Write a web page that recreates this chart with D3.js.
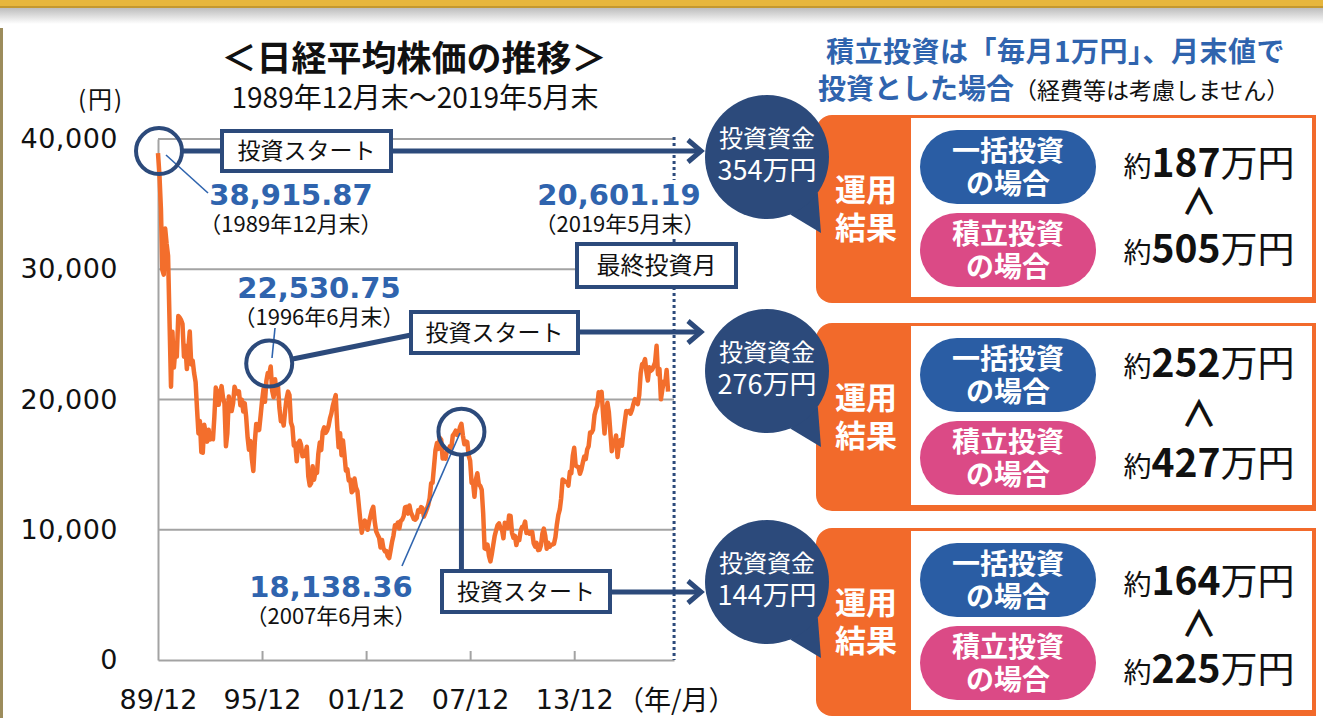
<!DOCTYPE html>
<html><head><meta charset="utf-8">
<script src="https://cdn.jsdelivr.net/npm/d3@7"></script>
<style>body{margin:0;background:#fff;overflow:hidden}svg{display:block}</style>
</head><body>
<svg id="c" width="1323" height="718"></svg>
<script>
// ---------- DATA ----------
const seriesStart = "1989/12";   // first month of the series (month-end values)
const nikkei1989to1994 = [38916,
 37189,34592,29980,29585,33131,31940,31036,25978,20984,25194,22454,23849,
 23293,26409,26292,26111,25790,23291,24121,22336,23916,25222,22687,22984,
 22023,21339,19346,17391,18348,15952,15910,18061,17399,16767,17684,16925,
 17024,16953,18591,20919,20552,19590,20380,21027,20106,19704,16408,17417,
 20229,19112,19112,19725,20974,20644,20449,20629,19564,19990,19076,19723];
const nikkei1995to2004 = [
 18650,17054,16140,16807,15437,14518,16678,18117,17913,17655,18744,19868,
 20813,19819,21407,22041,21956,22531,20693,20167,21556,20467,21020,19361,
 18330,18557,18003,19151,20069,20605,20331,18229,17888,16459,16636,15259,
 16628,16832,16527,15641,15671,15830,16379,14108,13406,13564,14883,13842,
 14499,14368,15837,16702,16112,17530,17862,17437,17605,17942,18558,18934,
 19540,19960,20337,17974,16332,17411,15727,16861,15747,14539,14649,13786,
 13844,12884,12999,13935,13262,12969,11861,10714,9775,10366,10697,10543,
 9998,10588,11025,11493,11764,10622,9878,9619,9383,8640,9216,8579,
 8340,8363,7973,7831,8425,9083,9563,10344,10219,10560,10101,10677,
 10784,11042,11715,11762,11236,11859,11326,11082,10824,10771,10899,11489];
const nikkei2005to2014 = [
 11388,11741,11669,11009,11277,11584,11900,12414,13574,13607,14872,16111,
 16650,16205,17060,16906,15467,15505,15457,16141,16128,16399,16274,17226,
 17383,17604,17288,17400,17876,18138,17249,16569,16786,16738,15681,15308,
 13592,13604,12526,13850,14339,13481,13377,13073,11260,8577,8512,8860,
 7994,7568,8110,8828,9523,9958,10357,10493,10133,10035,9346,10546,
 10198,10126,11090,11057,9769,9383,9537,8824,9369,9202,9937,10229,
 10238,10624,9755,9850,9694,9816,9833,8955,8700,8988,8435,8455,
 8803,9723,10084,9521,8543,9007,8695,8840,8870,8928,9446,10395,
 11139,11559,12398,13861,13775,13677,13668,13389,14456,14328,15662,16291,
 14915,14841,14828,14304,14632,15162,15621,15425,16174,16414,17460,17451];
const nikkei2015to2019 = [
 17674,18798,19207,19520,20563,20236,20585,18890,17388,19083,19747,19034,
 17518,16027,16759,16666,17235,15576,16569,16887,16450,17425,18308,19114,
 19041,19119,18909,19197,19651,20033,19925,19646,20356,22012,22725,22765,
 23098,22068,21454,22468,22202,22305,22554,22865,24120,21920,22351,20015,
 20773,21385,21206,22259,20601];

const yTicks = [0, 10000, 20000, 30000, 40000];
const xTickLabels = ["89/12","95/12","01/12","07/12","13/12"];
const xUnitLabel = "（年/月）";

const startMonths = ["1989/12","1996/06","2007/06"];
const startPrices = [38915.87, 22530.75, 18138.36];
const startNotes  = ["（1989年12月末）","（1996年6月末）","（2007年6月末）"];
const lastMonth = "2019/05";
const lastPrice = 20601.19;
const lastNote = "（2019年5月末）";

const capitalMan = [354, 276, 144];   // 投資資金（万円）
const lumpSumMan = [187, 252, 164];   // 一括投資の場合（万円）
const dcaMan     = [505, 427, 225];   // 積立投資の場合（万円）

// ---------- STYLE ----------
const CJK = '"Noto Sans CJK JP","Noto Sans CJK SC",sans-serif';
const LAT = '"DejaVu Sans",Verdana,sans-serif';
const NAVY = "#2C4A7B", BLUE = "#2F64AE", ORANGE = "#F26A2B", PINK = "#DB4A86",
      PILL = "#2A5DA4", GRID = "#A3A3A3", LINE = "#F36E2C";

const svg = d3.select("#c");
const W = 1323, H = 718;

// ---------- FRAME ----------
const defs = svg.append("defs");
const g1 = defs.append("linearGradient").attr("id","shadow").attr("x1",0).attr("y1",0).attr("x2",0).attr("y2",1);
g1.append("stop").attr("offset",0).attr("stop-color","#bdbdbd");
g1.append("stop").attr("offset",1).attr("stop-color","#ffffff");
svg.append("rect").attr("x",0).attr("y",0).attr("width",W).attr("height",H).attr("fill","#fff");
svg.append("rect").attr("x",0).attr("y",8).attr("width",W).attr("height",16).attr("fill","url(#shadow)");
svg.append("rect").attr("x",0).attr("y",0).attr("width",W).attr("height",7).attr("fill","#E7B63C");
svg.append("rect").attr("x",0).attr("y",6).attr("width",W).attr("height",2).attr("fill","#C4982F");
svg.append("rect").attr("x",0).attr("y",28).attr("width",3).attr("height",H-28).attr("fill","#9C8C5C");

// ---------- SCALES ----------
const parseYM = d3.timeParse("%Y/%m");
const parseShort = d3.timeParse("%y/%m");
const t0 = parseYM(seriesStart);
const values = [].concat(nikkei1989to1994, nikkei1995to2004, nikkei2005to2014, nikkei2015to2019);
const data = values.map((v,i) => ({date: new Date(t0.getFullYear(), t0.getMonth()+i, 1), v}));

const x = d3.scaleTime().domain([t0, new Date(2019,8,3)]).range([158, 674]);
const y = d3.scaleLinear().domain([0, 40000]).range([660, 139]);

// gridlines
svg.append("g").selectAll("line").data(yTicks.filter(d=>d>0)).join("line")
  .attr("x1",158).attr("x2",674).attr("y1",d=>y(d)).attr("y2",d=>y(d))
  .attr("stroke",GRID).attr("stroke-width",2);

// y axis
const yAxis = svg.append("g").attr("transform","translate(158,0)")
  .call(d3.axisLeft(y).tickValues(yTicks).tickFormat(d3.format(",")).tickSize(0).tickPadding(40));
yAxis.select(".domain").attr("stroke",GRID).attr("stroke-width",2);
yAxis.selectAll("text").attr("font-family",LAT).attr("font-size",27).attr("letter-spacing",0.5).attr("fill","#111");

// x axis
const xAxis = svg.append("g").attr("transform","translate(0,660)")
  .call(d3.axisBottom(x).tickValues(xTickLabels.map(parseShort)).tickFormat(d3.timeFormat("%y/%m"))
        .tickSizeInner(-9).tickSizeOuter(0).tickPadding(30));
xAxis.select(".domain").attr("stroke",GRID).attr("stroke-width",2);
xAxis.selectAll(".tick line").attr("stroke",GRID).attr("stroke-width",2);
xAxis.selectAll(".tick").filter((d,i)=>i===0).select("line").remove();
xAxis.selectAll("text").attr("font-family",LAT).attr("font-size",27).attr("fill","#111");
svg.append("text").attr("x",617).attr("y",710).attr("font-family",CJK).attr("font-size",27)
  .attr("fill","#111").text(xUnitLabel);

// series
svg.append("path").datum(data)
  .attr("d", d3.line().x(d=>x(d.date)).y(d=>y(d.v)))
  .attr("fill","none").attr("stroke",LINE).attr("stroke-width",4.5).attr("stroke-linejoin","round");

// final-month dotted line
svg.append("line").attr("x1",x(parseYM(lastMonth))+6).attr("x2",x(parseYM(lastMonth))+6)
  .attr("y1",137).attr("y2",660).attr("stroke",NAVY).attr("stroke-width",3).attr("stroke-dasharray","3,3");

// ---------- TITLES ----------
svg.append("text").attr("x",414).attr("y",71).attr("text-anchor","middle").attr("font-family",CJK)
  .attr("font-weight","bold").attr("font-size",35).attr("fill","#111").text("＜日経平均株価の推移＞");
svg.append("text").attr("x",415).attr("y",108).attr("text-anchor","middle").attr("font-family",CJK)
  .attr("font-size",28).attr("fill","#111").text("1989年12月末～2019年5月末");
svg.append("text").attr("x",78).attr("y",108).attr("font-family",CJK)
  .attr("font-size",24).attr("letter-spacing",2).attr("fill","#111").text("(円)");

svg.append("text").attr("x",826).attr("y",62).attr("font-family",CJK).attr("font-weight","bold")
  .attr("font-size",28).attr("letter-spacing",0.5).attr("fill",BLUE).text("積立投資は「毎月1万円」、月末値で");
const t2 = svg.append("text").attr("x",818).attr("y",99).attr("font-family",CJK);
t2.append("tspan").attr("font-weight","bold").attr("font-size",28).attr("fill",BLUE).text("投資とした場合");
t2.append("tspan").attr("font-size",23).attr("fill","#111").text("（経費等は考慮しません）");

// ---------- ANNOTATIONS (start points) ----------
const fmt = d3.format(",.2f");
const circOff = [[1,-2],[-1.5,-3],[0,8]];
const starts = startMonths.map((m,i)=>({px:x(parseYM(m)), py:y(startPrices[i]), i}));
const circles = starts.map((s,i)=>({cx:s.px+circOff[i][0], cy:s.py+circOff[i][1]}));
const R = 23;

// leader lines
const leaders = [[166,155,208,193],[275,328,272,358],[460,433,402,566]];
svg.append("g").selectAll("line").data(leaders).join("line")
  .attr("x1",d=>d[0]).attr("y1",d=>d[1]).attr("x2",d=>d[2]).attr("y2",d=>d[3])
  .attr("stroke",BLUE).attr("stroke-width",1.6);

const boxes = [[222,131,169,40],[411,312,167,41],[442,571,168,41]];
const arrowY = [151,332,592];
const tipX = 701;
const conn = svg.append("g").attr("stroke",NAVY).attr("stroke-width",5).attr("fill","none");
// circle -> box
conn.append("line").attr("x1",circles[0].cx+R).attr("y1",arrowY[0]).attr("x2",boxes[0][0]).attr("y2",arrowY[0]);
conn.append("line").attr("x1",circles[1].cx+R-2).attr("y1",circles[1].cy-4).attr("x2",boxes[1][0]).attr("y2",335);
conn.append("line").attr("x1",circles[2].cx).attr("y1",circles[2].cy+R).attr("x2",circles[2].cx).attr("y2",boxes[2][1]);
// box -> arrow
boxes.forEach((b,i)=>{
  conn.append("line").attr("x1",b[0]+b[2]).attr("y1",arrowY[i]).attr("x2",tipX-2).attr("y2",arrowY[i]);
  conn.append("path").attr("d",`M${tipX-13},${arrowY[i]-11}L${tipX},${arrowY[i]}L${tipX-13},${arrowY[i]+11}`)
    .attr("stroke-linejoin","miter");
});
conn.selectAll("circle").data(circles).join("circle")
  .attr("cx",d=>d.cx).attr("cy",d=>d.cy).attr("r",R).attr("stroke-width",4);

// boxes
const allBoxes = boxes.map(b=>({b, label:"投資スタート", fs:23})).concat([{b:[577,244,159,43], label:"最終投資月", fs:24}]);
allBoxes.forEach(o=>{
  const [bx,by,bw,bh] = o.b;
  svg.append("rect").attr("x",bx).attr("y",by).attr("width",bw).attr("height",bh)
    .attr("fill","#fff").attr("stroke",NAVY).attr("stroke-width",4);
  svg.append("text").attr("x",bx+bw/2).attr("y",by+bh/2+o.fs*0.36).attr("text-anchor","middle")
    .attr("font-family",CJK).attr("font-size",o.fs).attr("fill","#111").text(o.label);
});

// value labels
const labelPos = [[291,205],[319,298],[331,597]];
startPrices.forEach((p,i)=>{
  svg.append("text").attr("x",labelPos[i][0]).attr("y",labelPos[i][1]).attr("text-anchor","middle")
    .attr("font-family",LAT).attr("font-weight","bold").attr("font-size",29).attr("fill",BLUE).text(fmt(p));
  svg.append("text").attr("x",labelPos[i][0]).attr("y",labelPos[i][1]+27).attr("text-anchor","middle")
    .attr("font-family",CJK).attr("font-size",22).attr("fill","#111").text(startNotes[i]);
});
// end label, with white backing over the dotted line
svg.append("rect").attr("x",538).attr("y",180).attr("width",166).attr("height",56).attr("fill","#fff");
svg.append("text").attr("x",619).attr("y",205).attr("text-anchor","middle")
  .attr("font-family",LAT).attr("font-weight","bold").attr("font-size",29).attr("fill",BLUE).text(fmt(lastPrice));
svg.append("text").attr("x",620).attr("y",232).attr("text-anchor","middle")
  .attr("font-family",CJK).attr("font-size",22).attr("fill","#111").text(lastNote);

// ---------- RESULT PANELS ----------
const panelTop = [115, 323, 528];
const panelH = 188;
const valueBase = [[62,100,148],[54,104,154],[67,109,155]];
const bubbleCY = [157, 371, 582];

panelTop.forEach((top,i)=>{
  const x0=816, x1=1316, y0=top, y1=top+panelH, r=16;
  svg.append("path").attr("d",`M${x0+r},${y0}H${x1}V${y1}H${x0+r}A${r},${r} 0 0 1 ${x0},${y1-r}V${y0+r}A${r},${r} 0 0 1 ${x0+r},${y0}Z`)
    .attr("fill",ORANGE);
  svg.append("rect").attr("x",911).attr("y",top+3).attr("width",401).attr("height",panelH-9).attr("fill","#fff");
  ["運用","結果"].forEach((s,k)=>svg.append("text").attr("x",866).attr("y",top+86+k*38).attr("text-anchor","middle")
    .attr("font-family",CJK).attr("font-weight","bold").attr("font-size",31).attr("fill","#fff").text(s));
  [[PILL,"一括投資",15],[PINK,"積立投資",98]].forEach(([c,lab,off])=>{
    svg.append("rect").attr("x",920).attr("y",top+off).attr("width",176).attr("height",74).attr("rx",37).attr("fill",c);
    svg.append("text").attr("x",1008).attr("y",top+off+31).attr("text-anchor","middle").attr("font-family",CJK)
      .attr("font-weight","bold").attr("font-size",28).attr("fill","#fff").text(lab);
    svg.append("text").attr("x",1008).attr("y",top+off+64).attr("text-anchor","middle").attr("font-family",CJK)
      .attr("font-weight","bold").attr("font-size",28).attr("fill","#fff").text("の場合");
  });
  const vb = valueBase[i];
  [[lumpSumMan[i], vb[0]],[dcaMan[i], vb[2]]].forEach(([v,off])=>{
    const t = svg.append("text").attr("x",1209).attr("y",top+off).attr("text-anchor","middle")
      .attr("font-family",CJK).attr("fill","#111");
    t.append("tspan").attr("font-size",28).text("約");
    t.append("tspan").attr("font-size",39).attr("font-weight","bold").text(v);
    t.append("tspan").attr("font-size",37).text("万円");
  });
  svg.append("text").attr("x",1199).attr("y",top+vb[1]).attr("text-anchor","middle").attr("font-family",CJK)
    .attr("font-size",36).attr("font-weight","bold").attr("fill","#111").text("∧");

  // bubble
  const cx=767, cy=bubbleCY[i], br=62;
  const a1=35*Math.PI/180, a2=68*Math.PI/180;
  svg.append("path").attr("d",`M${cx+br*Math.cos(a1)},${cy+br*Math.sin(a1)}L821,${cy+76}L${cx+br*Math.cos(a2)},${cy+br*Math.sin(a2)}Z`)
    .attr("fill",NAVY);
  svg.append("circle").attr("cx",cx).attr("cy",cy).attr("r",br).attr("fill",NAVY);
  svg.append("text").attr("x",cx).attr("y",cy-10).attr("text-anchor","middle").attr("font-family",CJK)
    .attr("font-size",24).attr("fill","#fff").text("投資資金");
  svg.append("text").attr("x",cx).attr("y",cy+23).attr("text-anchor","middle").attr("font-family",CJK)
    .attr("font-size",27).attr("fill","#fff").text(capitalMan[i]+"万円");
});
</script>
</body></html>
